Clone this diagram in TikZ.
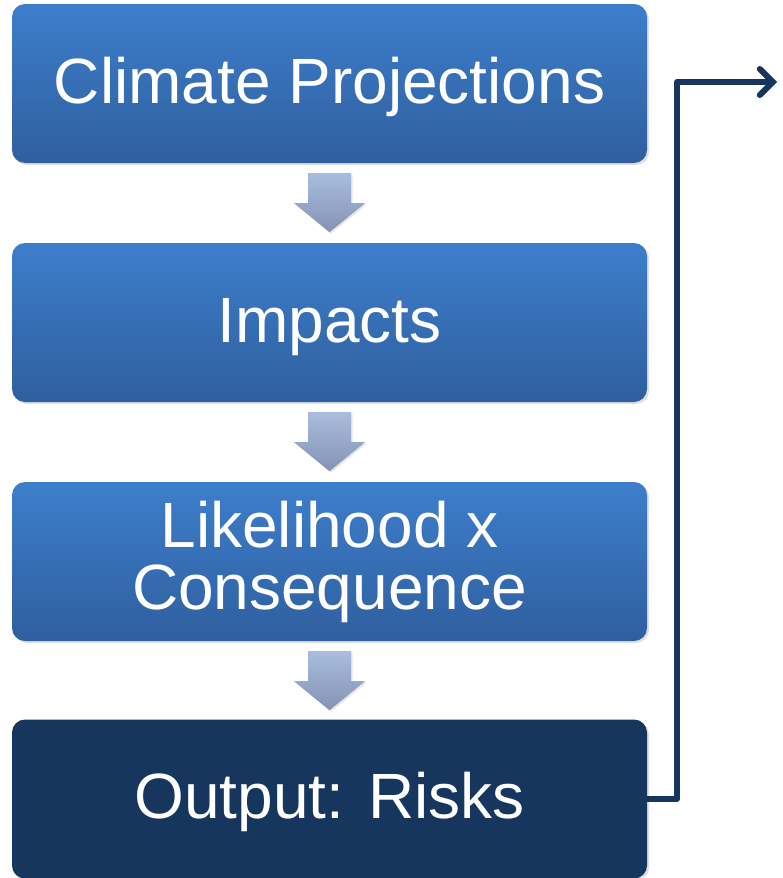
\documentclass[tikz,border=0pt]{standalone}
\usepackage{fontspec}
\setmainfont{Liberation Sans}
\usetikzlibrary{calc,shadows,arrows.meta}
\definecolor{boxtop}{HTML}{3D7ECB}
\definecolor{boxbot}{HTML}{2F5F9F}
\definecolor{darkbox}{HTML}{17365D}
\definecolor{arrtop}{HTML}{A9BDDF}
\definecolor{arrbot}{HTML}{8493B3}
\tikzset{
  stepbox/.style={rounded corners=13pt, minimum width=635pt, minimum height=159pt,
    inner sep=0pt, text=white, align=center,
    font=\fontsize{64}{62}\selectfont,
    drop shadow={opacity=0.25, shadow xshift=2pt, shadow yshift=-2pt}},
  oneline/.style={text height=46pt, text depth=7pt},
  bluebox/.style={stepbox, top color=boxtop, bottom color=boxbot},
  darkstep/.style={stepbox, fill=darkbox},
  blockarrow/.style={top color=arrtop, bottom color=arrbot,
    drop shadow={opacity=0.2, shadow xshift=1.5pt, shadow yshift=-1.5pt}},
  conn/.style={draw=darkbox, line width=6pt, line join=round,
    -{Straight Barb[length=13pt, width=26pt, line width=6pt, line cap=round]}}
}
\newcommand{\blockarrowbelow}[1]{%
  \path[blockarrow]
    ($(#1.south)+(-21.5,10)$) -- ($(#1.south)+(21.5,10)$)
    -- ($(#1.south)+(21.5,40)$) -- ($(#1.south)+(35.5,40)$)
    -- ($(#1.south)+(0,69)$) -- ($(#1.south)+(-35.5,40)$)
    -- ($(#1.south)+(-21.5,40)$) -- cycle;}
\begin{document}
\begin{tikzpicture}[x=1pt,y=-1pt]
\useasboundingbox (0,0) rectangle (782,878);
\node[bluebox, oneline] (b1) at (329.5,83.5) {Climate Projections};
\node[bluebox, oneline] (b2) at (329.5,322.5) {Impacts};
\node[bluebox] (b3) at (329.5,561.5) {Likelihood x\\Consequence};
\node[darkstep, oneline] (b4) at (329.5,799) {Output: Risks};
\blockarrowbelow{b1}
\blockarrowbelow{b2}
\blockarrowbelow{b3}
\coordinate (turn) at (677,82);
\coordinate (end) at (777,82);
\draw[conn] (b4.east) -| (turn) -- (end);
\end{tikzpicture}
\end{document}
